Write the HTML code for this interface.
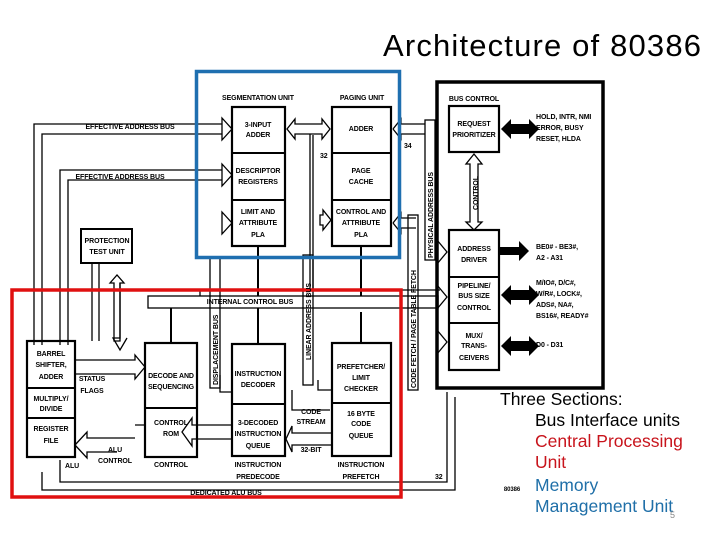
<!DOCTYPE html>
<html><head><meta charset="utf-8"><style>
html,body{margin:0;padding:0;background:#fff;width:720px;height:540px;overflow:hidden}
svg{display:block}
.t{font-family:"Liberation Sans",sans-serif;font-weight:bold;font-size:7px;fill:#000;letter-spacing:-0.1px}
</style></head><body>
<svg width="720" height="540" viewBox="0 0 720 540" xmlns="http://www.w3.org/2000/svg">
<text x="383" y="56" font-family="Liberation Sans,sans-serif" font-size="31" fill="#000" textLength="318" lengthAdjust="spacing">Architecture of 80386</text>
<g fill="none" stroke="#000" stroke-width="1.3">
<polyline points="34,345 34,124 222,124"/><polyline points="42,345 42,134 222,134"/>
<polyline points="60,345 60,170 222,170"/><polyline points="68,345 68,180 222,180"/>
<path d="M222,118 l10,11 l-10,11z M222,164 l10,11 l-10,11z M222,212 l10,11 l-10,11z"/>
<rect x="81" y="229" width="51" height="34" stroke-width="2"/>
<line x1="92" y1="263" x2="92" y2="341"/><line x1="99" y1="263" x2="99" y2="341"/>
<path d="M110,283 l7,-8 l7,8 h-4 v58 h-6 v-58z"/>
<rect x="232" y="107" width="53" height="139" stroke-width="2.2"/>
<line x1="232" y1="153" x2="285" y2="153" stroke-width="2"/><line x1="232" y1="200" x2="285" y2="200" stroke-width="2"/>
<rect x="332" y="107" width="59" height="139" stroke-width="2.2"/>
<line x1="332" y1="153" x2="391" y2="153" stroke-width="2"/><line x1="332" y1="200" x2="391" y2="200" stroke-width="2"/>
<path d="M287,129 l8,-10 v5 h27 v-5 l8,10 l-8,10 v-5 h-27 v5z"/>
<line x1="310" y1="134" x2="310" y2="290"/>
<polyline points="313,290 313,135"/>
<path d="M320,215 h3 v-5 l8,10 l-8,10 v-5 h-3z"/>
<line x1="258" y1="246" x2="258" y2="296" stroke-width="2"/><line x1="361" y1="246" x2="361" y2="296" stroke-width="2"/>
<rect x="210" y="258" width="10" height="130"/>
<rect x="303" y="255" width="10" height="130"/>
<rect x="408" y="215" width="10" height="175"/>
<rect x="425" y="120" width="10" height="140"/>
<path d="M393,129 l8,-10 v5 h24 M393,129 l8,10 v-5 h24"/>
<path d="M393,223 l8,-10 v5 h15 M393,223 l8,10 v-5 h15"/>
<rect x="148" y="296" width="290" height="12"/>
<line x1="171" y1="308" x2="171" y2="343" stroke-width="2"/><line x1="258" y1="308" x2="258" y2="344" stroke-width="2"/><line x1="361" y1="312" x2="361" y2="343" stroke-width="2"/>
<rect x="437" y="82" width="166" height="306" stroke-width="3.5"/>
<rect x="449" y="106" width="50" height="46" stroke-width="2.2"/>
<rect x="449" y="230" width="50" height="140" stroke-width="2.2"/>
<line x1="449" y1="277" x2="499" y2="277" stroke-width="2"/><line x1="449" y1="323" x2="499" y2="323" stroke-width="2"/>
<path d="M474,154 l-8,10 h4 v58 h-4 l8,8 l8,-8 h-4 v-58 h4z"/>
<path d="M437,240 l10,12 l-10,12 M437,285 l10,12 l-10,12 M437,330 l10,12 l-10,12"/>
<rect x="27" y="341" width="48" height="116" stroke-width="2.2"/>
<line x1="27" y1="388" x2="75" y2="388" stroke-width="2"/><line x1="27" y1="418" x2="75" y2="418" stroke-width="2"/>
<rect x="145" y="343" width="52" height="114" stroke-width="2.2"/><line x1="145" y1="408" x2="197" y2="408" stroke-width="2"/>
<rect x="232" y="344" width="53" height="112" stroke-width="2.2"/><line x1="232" y1="404" x2="285" y2="404" stroke-width="2"/>
<rect x="332" y="343" width="59" height="113" stroke-width="2.2"/><line x1="332" y1="403" x2="391" y2="403" stroke-width="2"/>
<path d="M75,360 h60 v-5 l10,12 l-10,12 v-5 h-60"/>
<path d="M145,425 h-10 M232,425 h-40 v-7 l-10,14 l10,14 v-7 h40"/>
<path d="M332,433 h-40 v-7 l-6,13 l6,13 v-7 h40"/>
<path d="M75,445 l12,-13 v6 h48 M75,445 l12,13 v-6 h30"/>
<polyline points="120,283 120,338 113,338 120,350 127,338"/>
<polyline points="42,472 42,490 455,490 455,397"/>
<polyline points="60,460 60,482 447,482 447,392"/>
<polyline points="200,296 200,290 440,290"/>
<polyline points="292,390 292,410 330,410"/>
<polyline points="220,375 220,392 232,392"/>
<polyline points="318,380 318,390 332,390"/>
</g>
<rect x="196.5" y="71.5" width="203" height="186" fill="none" stroke="#1f6fb0" stroke-width="3.5"/>
<rect x="12" y="290" width="389" height="207" fill="none" stroke="#e01010" stroke-width="3.5"/>
<g fill="#000">
<path d="M501,129 l10,-10 v5 h18 v-5 l10,10 l-10,10 v-5 h-18 v5z"/>
<path d="M499,247 h20 v-6 l10,10 l-10,10 v-6 h-20z"/>
<path d="M501,295 l10,-10 v5 h18 v-5 l10,10 l-10,10 v-5 h-18 v5z"/>
<path d="M501,346 l10,-10 v5 h18 v-5 l10,10 l-10,10 v-5 h-18 v5z"/>
</g>
<g class="t" text-anchor="middle">
<text x="258" y="100">SEGMENTATION UNIT</text><text x="362" y="100">PAGING UNIT</text>
<text x="258" y="127">3-INPUT</text><text x="258" y="137">ADDER</text>
<text x="258" y="173">DESCRIPTOR</text><text x="258" y="184">REGISTERS</text>
<text x="258" y="214">LIMIT AND</text><text x="258" y="225">ATTRIBUTE</text><text x="258" y="237">PLA</text>
<text x="361" y="131">ADDER</text><text x="361" y="173">PAGE</text><text x="361" y="184">CACHE</text>
<text x="361" y="214">CONTROL AND</text><text x="361" y="225">ATTRIBUTE</text><text x="361" y="237">PLA</text>
<text x="107" y="243">PROTECTION</text><text x="107" y="254">TEST UNIT</text>
<text x="474" y="101">BUS CONTROL</text>
<text x="474" y="126">REQUEST</text><text x="474" y="137">PRIORITIZER</text>
<text x="474" y="251">ADDRESS</text><text x="474" y="262">DRIVER</text>
<text x="474" y="288">PIPELINE/</text><text x="474" y="298">BUS SIZE</text><text x="474" y="310">CONTROL</text>
<text x="474" y="338">MUX/</text><text x="474" y="348">TRANS-</text><text x="474" y="360">CEIVERS</text>
<text x="51" y="356">BARREL</text><text x="51" y="367">SHIFTER,</text><text x="51" y="379">ADDER</text>
<text x="51" y="401">MULTIPLY/</text><text x="51" y="411">DIVIDE</text>
<text x="51" y="431">REGISTER</text><text x="51" y="443">FILE</text>
<text x="92" y="381">STATUS</text><text x="92" y="393">FLAGS</text>
<text x="171" y="378">DECODE AND</text><text x="171" y="389">SEQUENCING</text>
<text x="171" y="425">CONTROL</text><text x="171" y="436">ROM</text>
<text x="258" y="376">INSTRUCTION</text><text x="258" y="387">DECODER</text>
<text x="258" y="425">3-DECODED</text><text x="258" y="436">INSTRUCTION</text><text x="258" y="448">QUEUE</text>
<text x="361" y="369">PREFETCHER/</text><text x="361" y="380">LIMIT</text><text x="361" y="391">CHECKER</text>
<text x="361" y="416">16 BYTE</text><text x="361" y="426">CODE</text><text x="361" y="438">QUEUE</text>
<text x="311" y="414">CODE</text><text x="311" y="424">STREAM</text><text x="311" y="452">32-BIT</text>
<text x="115" y="452">ALU</text><text x="115" y="463">CONTROL</text><text x="171" y="467">CONTROL</text>
<text x="258" y="467">INSTRUCTION</text><text x="258" y="479">PREDECODE</text>
<text x="361" y="467">INSTRUCTION</text><text x="361" y="479">PREFETCH</text>
<text x="226" y="495">DEDICATED ALU BUS</text>
<text x="250" y="304">INTERNAL CONTROL BUS</text>
<text x="130" y="129">EFFECTIVE ADDRESS BUS</text><text x="120" y="179">EFFECTIVE ADDRESS BUS</text>
<text x="512" y="491" font-size="6">80386</text>
</g>
<g class="t">
<text x="65" y="468">ALU</text>
<text x="536" y="119">HOLD, INTR, NMI</text><text x="536" y="130">ERROR, BUSY</text><text x="536" y="141">RESET, HLDA</text>
<text x="536" y="249">BE0# - BE3#,</text><text x="536" y="260">A2 - A31</text>
<text x="536" y="285">M/IO#, D/C#,</text><text x="536" y="296">W/R#, LOCK#,</text><text x="536" y="307">ADS#, NA#,</text><text x="536" y="318">BS16#, READY#</text>
<text x="536" y="347">D0 - D31</text>
<text x="320" y="158">32</text><text x="404" y="148">34</text><text x="435" y="479">32</text>
<text transform="translate(218,385) rotate(-90)">DISPLACEMENT BUS</text>
<text transform="translate(311,360) rotate(-90)">LINEAR ADDRESS BUS</text>
<text transform="translate(416,388) rotate(-90)">CODE FETCH / PAGE TABLE FETCH</text>
<text transform="translate(433,258) rotate(-90)">PHYSICAL ADDRESS BUS</text>
<text transform="translate(478,210) rotate(-90)">CONTROL</text>
</g>
<g font-family="Liberation Sans,sans-serif" font-size="17.5">
<text x="500" y="405" fill="#000">Three Sections:</text>
<text x="535" y="426" fill="#000">Bus Interface units</text>
<text x="535" y="447" fill="#c8141c">Central Processing</text>
<text x="535" y="468" fill="#c8141c">Unit</text>
<text x="535" y="491" fill="#1f6fa8">Memory</text>
<text x="535" y="512" fill="#1f6fa8">Management Unit</text>
<text x="670" y="518" font-size="9" fill="#888">5</text>
</g>
</svg>
</body></html>
